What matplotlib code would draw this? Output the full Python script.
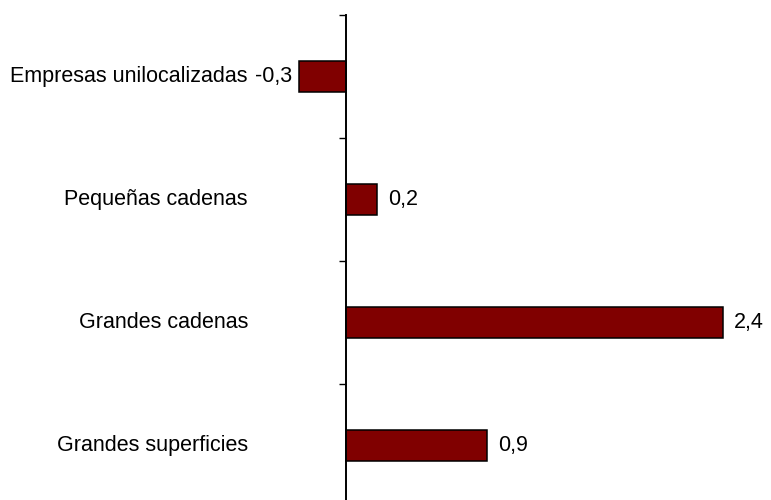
import matplotlib
matplotlib.use("Agg")
import matplotlib.pyplot as plt

# Datos del grafico (de arriba a abajo)
categorias = ["Empresas unilocalizadas", "Pequeñas cadenas", "Grandes cadenas", "Grandes superficies"]
valores = [-0.3, 0.2, 2.4, 0.9]

plt.rcParams['font.family'] = ['Liberation Sans', 'DejaVu Sans']

fig = plt.figure(figsize=(7.71, 5.0), dpi=100)

# posicion de los ejes en pixeles: cero en x=346, 157 px por unidad
x_min, x_max = -0.5, 2.6
px_unit = 157
left_px = 346 + x_min * px_unit
width_px = (x_max - x_min) * px_unit
top_px, band_px = 15, 123
bottom_px = top_px + band_px * len(categorias)
ax = fig.add_axes([left_px / 771, (500 - bottom_px) / 500,
                   width_px / 771, band_px * len(categorias) / 500])

pos = list(range(len(categorias)))
ax.barh(pos, valores, height=0.25, color='#800000', edgecolor='black', linewidth=1.1)

ax.set_xlim(x_min, x_max)
ax.set_ylim(len(categorias) - 0.5, -0.5)

for s in ['top', 'right', 'bottom']:
    ax.spines[s].set_visible(False)
ax.spines['left'].set_position(('data', 0))
ax.spines['left'].set_linewidth(1.4)
ax.set_xticks([])
ax.set_yticks([i - 0.5 for i in range(len(categorias) + 1)])
ax.set_yticklabels([])
ax.tick_params(axis='y', direction='out', length=5, width=1)

fs = 15.5

# etiquetas de categoria, alineadas a la derecha a ~98 px del eje
for i, cat in enumerate(categorias):
    ax.annotate(cat, xy=(0, i), xytext=(-98, 0), textcoords='offset pixels',
                ha='right', va='center', fontsize=fs)

# etiquetas de valor con coma decimal
for i, v in enumerate(valores):
    txt = f"{v:.1f}".replace('.', ',')
    if v >= 0:
        ax.annotate(txt, xy=(v, i), xytext=(11, 0), textcoords='offset pixels',
                    ha='left', va='center', fontsize=fs)
    else:
        ax.annotate(txt, xy=(v, i), xytext=(-7, 0), textcoords='offset pixels',
                    ha='right', va='center', fontsize=fs)

fig.savefig("out.png", dpi=100)
